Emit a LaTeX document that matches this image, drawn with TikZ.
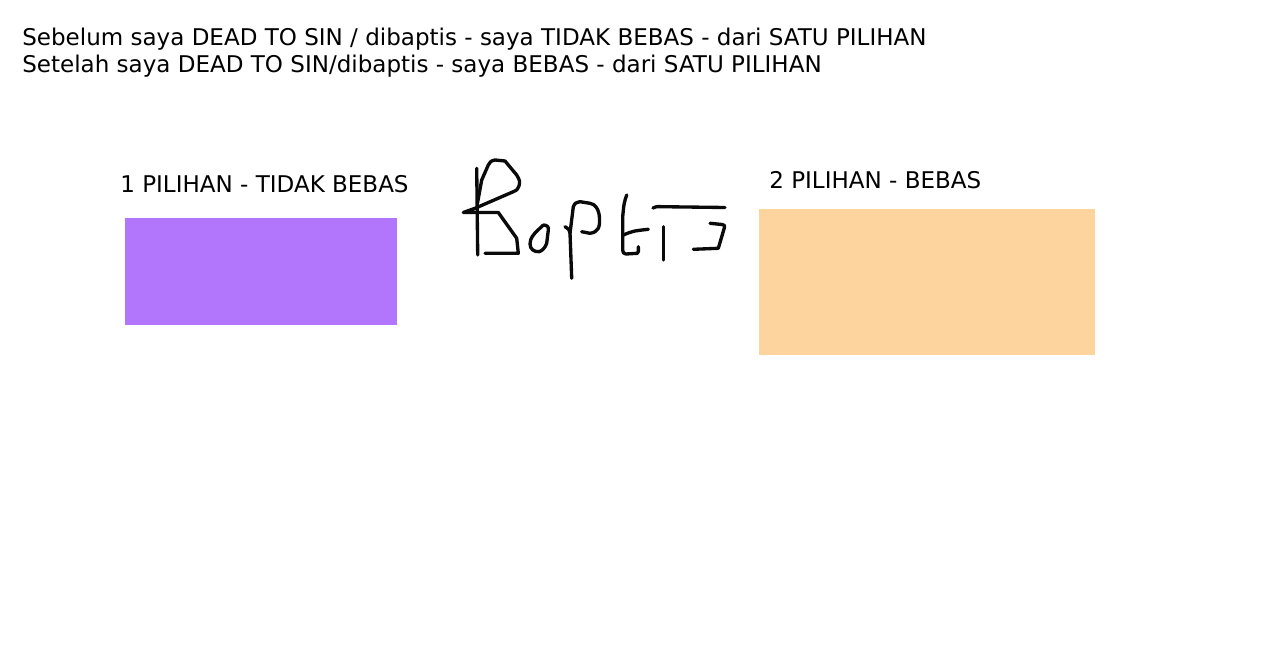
\documentclass[tikz,border=0pt]{standalone}
\usepackage{fontspec}
\setmainfont{DejaVu Sans}
\usepackage{tikz}
\usetikzlibrary{positioning}
\definecolor{ungu}{RGB}{177,118,252}
\definecolor{jingga}{RGB}{253,211,158}
\definecolor{tinta}{RGB}{10,10,10}
\tikzset{
  judul/.style={anchor=west,inner sep=0pt,font=\fontsize{13.1}{15}\selectfont},
  label/.style={inner sep=0pt,font=\fontsize{13.1}{15}\selectfont},
  kotak/.style={inner sep=0pt,draw=none},
  coret/.style={tinta,line width=1.9pt,line cap=round,line join=round},
}

\begin{document}
\begin{tikzpicture}[x=0.02cm,y=-0.02cm]
  \useasboundingbox (0,0) rectangle (1280,669);
  % header lines
  \node[judul] (baris1) at (22,39) {Sebelum saya DEAD TO SIN / dibaptis - saya TIDAK BEBAS - dari SATU PILIHAN};
  \node[judul] (baris2) at (22,66) {Setelah saya DEAD TO SIN/dibaptis - saya BEBAS - dari SATU PILIHAN};
  % the two boxes
  \node[kotak,fill=ungu,minimum width=5.44cm,minimum height=2.14cm] (satu) at (261,271.5) {};
  \node[kotak,fill=jingga,minimum width=6.72cm,minimum height=2.92cm] (dua) at (927,282) {};
  \node[label] (labelsatu) at (264.5,184) {1 PILIHAN - TIDAK BEBAS};
  \node[label,anchor=west] (labeldua) at (769,180) {2 PILIHAN - BEBAS};
  % handwritten word
  \draw[coret] (476.7,168.3) -- (477.7,255);
  \draw[coret] (477.5,203) -- (481.7,180) -- (488.3,165) .. controls (491,161) .. (495,160) -- (505,161)
    -- (516.7,175) .. controls (520,181) .. (519,186) .. controls (517,190) .. (513.3,191.7)
    -- (475,208.3) -- (463.3,212.5) -- (498.3,212.5) -- (516.7,238.3) -- (518.3,253.3) -- (485,253.3);
  \draw[coret] (543.3,225) .. controls (547,225) and (549,227) .. (548.3,230)
    -- (546.7,243.3) .. controls (545,248) and (542,251) .. (539,251.7)
    .. controls (534,252) and (530,249) .. (530,244) .. controls (530,238) and (534,234) .. (537,231) -- (543.3,225);
  \draw[coret] (565,226.7) .. controls (568,228) and (570,230) .. (570,233) -- (571.7,278.3);
  \draw[coret] (570,233.3) -- (573.3,206.7) .. controls (575,203) .. (580,201.7) -- (590,203.3)
    .. controls (595,204) and (599,209) .. (599.5,218) .. controls (600,228) and (598,232) .. (590,233.3) -- (581.7,231.7);
  \draw[coret] (626.7,195) .. controls (624,203) .. (622.7,216.7) -- (622.7,250) .. controls (623,253) .. (626,254)
    -- (637.3,253.3) .. controls (638.5,252) .. (638.3,246.7);
  \draw[coret] (623.3,235) .. controls (633,231) .. (648.3,229.3);
  \draw[coret] (663.3,226.7) -- (663.3,260);
  \draw[coret] (653,208) .. controls (656,206.5) .. (662,206.7) -- (725,207.5);
  \draw[coret] (710,223.3) -- (722,224.5) .. controls (725,225.5) .. (724,229) -- (718.3,248.3) -- (693.3,249.3);
\end{tikzpicture}
\end{document}
